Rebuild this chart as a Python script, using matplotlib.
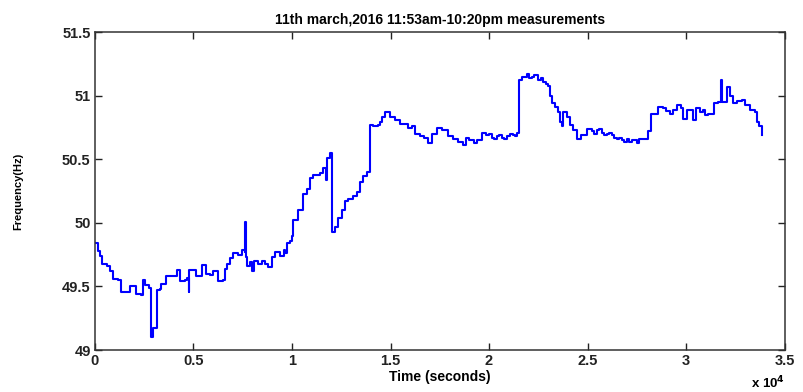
import matplotlib
matplotlib.use('Agg')
import matplotlib.pyplot as plt
from matplotlib.ticker import FuncFormatter

plt.rcParams['font.family'] = ['Liberation Sans', 'DejaVu Sans']
plt.rcParams['font.weight'] = 'bold'

# grid frequency log, 11 March 2016
time_s = [
    0, 150, 250, 340, 590, 760, 930, 1180, 1350, 1600,
    1780, 1950, 2110, 2320, 2420, 2540, 2760, 2840, 2960, 3130,
    3300, 3380, 3600, 3890, 4150, 4310, 4570, 4650, 4760, 4800,
    5125, 5330, 5460, 5630, 5830, 6000, 6260, 6480, 6600, 6710,
    6850, 7020, 7270, 7440, 7600, 7630, 7660, 7730, 7860, 7950,
    8070, 8290, 8460, 8630, 8790, 8970, 9130, 9390, 9590, 9650,
    9730, 9890, 9980, 10060, 10320, 10570, 10740, 10910, 11080, 11420,
    11580, 11720, 11760, 11950, 12010, 12180, 12350, 12520, 12690, 12850,
    13110, 13280, 13450, 13620, 13790, 13950, 14120, 14370, 14450, 14550,
    14710, 14970, 15220, 15480, 15730, 15900, 16070, 16240, 16490, 16690,
    16880, 17080, 17340, 17590, 17930, 18180, 18430, 18690, 18830, 19000,
    19230, 19400, 19620, 19870, 20000, 20130, 20260, 20400, 20520, 20640,
    20780, 20900, 21060, 21230, 21330, 21430, 21500, 21650, 21900, 22030,
    22160, 22300, 22500, 22620, 22750, 22880, 23000, 23090, 23170, 23340,
    23510, 23590, 23680, 23760, 23930, 24100, 24270, 24470, 24690, 24950,
    25200, 25330, 25460, 25580, 25710, 25840, 25960, 26090, 26220, 26340,
    26470, 26600, 26720, 26850, 26980, 27100, 27230, 27360, 27490, 27620,
    27740, 28080, 28240, 28590, 28840, 29000, 29180, 29340, 29550, 29720,
    29820, 30020, 30330, 30490, 30700, 30830, 30950, 31120, 31410, 31630,
    31790, 31830, 32080, 32220, 32360, 32560, 32810, 32980, 33240, 33490,
    33570, 33700, 33840,
]
freq_hz = [
    49.84, 49.78, 49.74, 49.68, 49.66, 49.62, 49.56, 49.55, 49.46, 49.46,
    49.50, 49.50, 49.44, 49.43, 49.55, 49.51, 49.49, 49.10, 49.17, 49.47,
    49.48, 49.52, 49.58, 49.58, 49.63, 49.54, 49.55, 49.57, 49.46, 49.63,
    49.58, 49.58, 49.67, 49.60, 49.59, 49.62, 49.54, 49.55, 49.64, 49.68,
    49.72, 49.76, 49.75, 49.79, 49.77, 50.01, 49.73, 49.66, 49.69, 49.62,
    49.70, 49.68, 49.70, 49.68, 49.65, 49.73, 49.77, 49.74, 49.79, 49.76,
    49.84, 49.86, 49.90, 50.02, 50.10, 50.23, 50.27, 50.35, 50.38, 50.39,
    50.43, 50.34, 50.51, 50.55, 49.93, 49.97, 50.04, 50.10, 50.17, 50.19,
    50.21, 50.24, 50.32, 50.37, 50.40, 50.77, 50.76, 50.77, 50.79, 50.83,
    50.87, 50.83, 50.81, 50.78, 50.78, 50.75, 50.76, 50.70, 50.68, 50.67,
    50.63, 50.70, 50.75, 50.73, 50.68, 50.66, 50.64, 50.61, 50.67, 50.65,
    50.63, 50.65, 50.71, 50.69, 50.70, 50.67, 50.66, 50.68, 50.69, 50.67,
    50.66, 50.68, 50.70, 50.69, 50.68, 50.71, 51.12, 51.15, 51.17, 51.14,
    51.15, 51.16, 51.12, 51.14, 51.11, 51.09, 51.08, 51.00, 50.94, 50.91,
    50.87, 50.79, 50.76, 50.87, 50.83, 50.77, 50.73, 50.66, 50.69, 50.74,
    50.72, 50.70, 50.73, 50.74, 50.71, 50.69, 50.70, 50.71, 50.69, 50.67,
    50.66, 50.67, 50.65, 50.64, 50.66, 50.64, 50.65, 50.65, 50.63, 50.66,
    50.66, 50.72, 50.86, 50.91, 50.90, 50.88, 50.86, 50.89, 50.93, 50.90,
    50.82, 50.89, 50.81, 50.90, 50.87, 50.89, 50.85, 50.86, 50.94, 50.95,
    51.12, 50.95, 51.07, 51.00, 50.94, 50.96, 50.97, 50.93, 50.89, 50.87,
    50.79, 50.76, 50.69,
]
x_ticks = [0, 5000, 10000, 15000, 20000, 25000, 30000, 35000]
y_ticks = [49, 49.5, 50, 50.5, 51, 51.5]

fig = plt.figure(figsize=(8.04, 3.92), dpi=100)
ax = fig.add_axes([0.118, 0.107, 0.858, 0.811])

ax.step(time_s, freq_hz, where='post', color='#0000ff', linewidth=1.5)

ax.set_xlim(0, 35000)
ax.set_ylim(49, 51.5)
ax.set_xticks(x_ticks)
ax.set_yticks(y_ticks)
ax.xaxis.set_major_formatter(FuncFormatter(lambda v, p: f'{v / 1e4:g}'))
ax.yaxis.set_major_formatter(FuncFormatter(lambda v, p: f'{v:g}'))
ax.tick_params(direction='in', top=True, right=True, length=5, width=1,
               labelsize=10.5, pad=3, colors='#222222')
for s in ax.spines.values():
    s.set_color('#333333')
    s.set_linewidth(1.1)

ax.set_title('11th march,2016 11:53am-10:20pm measurements', fontsize=10,
             fontweight='bold', pad=6)
ax.set_xlabel('Time (seconds)', fontsize=10, fontweight='bold', labelpad=1)
ax.set_ylabel('Frequency(Hz)', fontsize=8, fontweight='bold', labelpad=28)
ax.text(1.0, -0.105, r'x 10$^4$', transform=ax.transAxes, ha='right',
        va='center', fontsize=9.5, fontweight='bold')

fig.savefig('out.png', dpi=100)
